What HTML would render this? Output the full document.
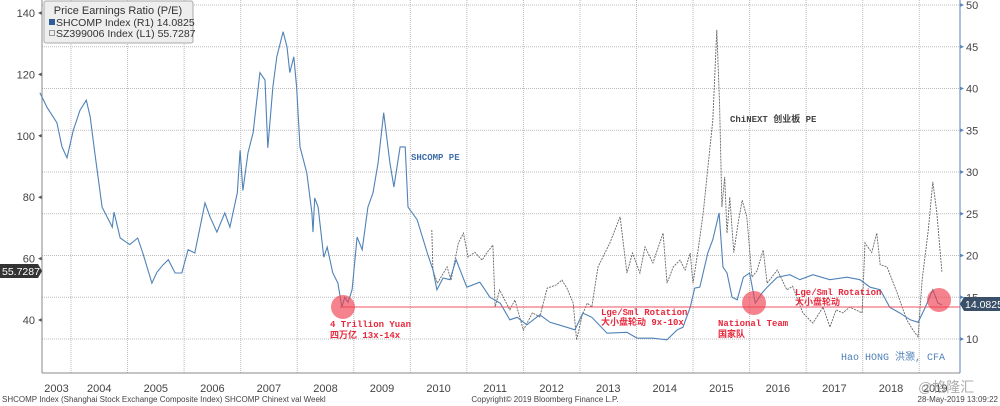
<!DOCTYPE html>
<html><head><meta charset="utf-8"><style>
body{margin:0;background:#fff;width:1000px;height:406px;overflow:hidden}
svg{display:block;font-family:"Liberation Sans","Noto Sans CJK SC",sans-serif}
.mono{font-family:"Liberation Mono","Noto Sans CJK SC",monospace;font-weight:bold}
</style></head><body>
<svg id="chart" width="1000" height="406">
<g id="grid"></g>
<g id="axes"></g>
<g id="series"></g>
<g id="annot"></g>
</svg>
<script>
const yearTicks=[2004,2005,2006,2007,2008,2009,2010,2011,2012,2013,2014,2015,2016,2017,2018,2019];
const yearLabels=[2003,2004,2005,2006,2007,2008,2009,2010,2011,2012,2013,2014,2015,2016,2017,2018,2019];
const leftTicks=[40,60,80,100,120,140];
const rightTicks=[10,15,20,25,30,35,40,45,50];
const shcompT=[2003.45,2003.58,2003.75,2003.84,2003.93,2004.04,2004.16,2004.27,2004.34,2004.42,2004.55,2004.73,2004.76,2004.87,2005.04,2005.18,2005.27,2005.43,2005.52,2005.63,2005.72,2005.84,2005.96,2006.07,2006.19,2006.37,2006.46,2006.58,2006.72,2006.81,2006.94,2006.99,2007.04,2007.13,2007.22,2007.34,2007.43,2007.48,2007.57,2007.64,2007.75,2007.82,2007.87,2007.94,2007.99,2008.05,2008.17,2008.26,2008.28,2008.31,2008.37,2008.47,2008.53,2008.63,2008.72,2008.79,2008.84,2008.9,2008.97,2009.06,2009.15,2009.25,2009.34,2009.43,2009.53,2009.64,2009.71,2009.82,2009.91,2009.96,2010.12,2010.3,2010.4,2010.47,2010.58,2010.7,2010.81,2011.0,2011.23,2011.41,2011.59,2011.76,2011.89,2012.06,2012.29,2012.47,2012.77,2012.91,2013.05,2013.21,2013.48,2013.83,2014.01,2014.29,2014.54,2014.72,2014.82,2014.95,2015.03,2015.12,2015.26,2015.35,2015.46,2015.53,2015.6,2015.69,2015.78,2015.89,2016.0,2016.1,2016.22,2016.31,2016.49,2016.71,2016.89,2017.12,2017.42,2017.72,2017.95,2018.13,2018.31,2018.48,2018.66,2018.84,2018.98,2019.1,2019.24,2019.33,2019.4];
const shcompV=[39.5,37.7,35.9,33.0,31.7,35.0,37.4,38.6,36.6,32.3,25.8,23.4,25.2,22.1,21.3,22.1,20.3,16.7,18.0,18.9,19.5,17.9,17.9,20.7,20.3,26.3,24.6,22.8,25.1,23.4,27.5,32.6,27.8,32.3,34.7,41.9,41.0,32.9,40.2,43.8,46.8,45.0,41.9,43.8,40.2,33.0,29.9,25.1,22.8,26.9,25.8,19.8,21.0,17.9,16.7,13.8,15.0,14.4,15.9,22.2,20.7,25.8,27.5,31.1,37.1,31.1,28.2,33.0,33.0,25.8,24.3,20.3,18.3,15.9,17.3,17.1,19.5,16.2,16.8,15.0,14.3,12.3,12.6,11.7,12.9,12.0,11.4,11.1,13.1,12.6,10.7,10.8,10.1,10.1,9.9,11.1,11.4,13.8,16.1,16.2,20.3,21.9,25.1,18.6,17.9,15.0,14.7,17.4,17.9,14.3,15.5,16.2,17.4,17.7,17.1,17.7,17.1,17.4,17.1,16.2,15.9,13.8,13.1,12.3,12.0,13.7,15.9,14.3,14.08];
const chinextT=[2010.38,2010.4,2010.48,2010.65,2010.72,2010.85,2010.94,2011.02,2011.14,2011.27,2011.36,2011.46,2011.5,2011.58,2011.76,2011.85,2012.0,2012.16,2012.29,2012.42,2012.58,2012.68,2012.77,2012.88,2012.94,2013.04,2013.13,2013.21,2013.32,2013.53,2013.71,2013.83,2013.93,2014.06,2014.15,2014.29,2014.47,2014.54,2014.65,2014.77,2014.86,2014.95,2015.0,2015.09,2015.18,2015.27,2015.35,2015.42,2015.47,2015.51,2015.56,2015.6,2015.65,2015.72,2015.8,2015.87,2015.95,2016.04,2016.13,2016.24,2016.31,2016.49,2016.66,2016.76,2016.94,2017.12,2017.3,2017.42,2017.53,2017.65,2017.77,2017.99,2018.04,2018.16,2018.25,2018.31,2018.43,2018.61,2018.78,2018.89,2018.98,2019.05,2019.16,2019.24,2019.31,2019.4];
const chinextV=[69.3,56.3,52.0,57.3,53.0,65.1,68.3,60.5,62.1,59.5,62.1,64.4,44.2,49.8,43.3,46.5,36.7,42.3,41.0,50.4,51.4,53.0,50.4,45.5,33.5,41.6,45.5,44.2,57.3,65.1,73.6,55.3,61.8,55.3,63.8,58.6,68.3,52.0,57.3,59.5,56.3,61.8,52.0,62.8,74.9,91.0,105,134.5,110,76.8,86.6,68.3,80,62,72,79,73.6,54.0,56,62.8,52,56.3,49.8,51,42.3,39.0,44.2,37.7,43.3,42.3,44.2,42.3,65.1,62,68.3,58,57.3,48.8,40.0,36.7,34.5,53.0,69.3,85.0,75.0,55.73];
const X0=71,XS=56.55,PL=42,PR=960,PB=373;
const xS=t=>X0+(t-2004)*XS;
const yL=v=>13+(140-v)*3.07;
const yR=v=>5+(50-v)*8.35;
const NS='http://www.w3.org/2000/svg';
function mk(tag,at,parent,txt){const e=document.createElementNS(NS,tag);for(const k in at)e.setAttribute(k,at[k]);if(txt!==undefined)e.textContent=txt;parent.appendChild(e);return e;}
const grid=document.getElementById('grid'),axes=document.getElementById('axes'),ser=document.getElementById('series'),ann=document.getElementById('annot');
rightTicks.forEach(v=>{const l=mk('line',{x1:PL,x2:PR,y1:yR(v),y2:yR(v),stroke:'#bbb','stroke-dasharray':'1,1'},grid);


const t=mk('text',{x:PR+6,y:yR(v)+4,'font-size':11,fill:'#444'},axes,v);


mk('path',{d:`M${PR} ${yR(v)-2}L${PR+4} ${yR(v)}L${PR} ${yR(v)+2}Z`,fill:'#5a86b8'},axes);});
yearTicks.forEach(y=>{const l=mk('line',{x1:xS(y),x2:xS(y),y1:0,y2:PB,stroke:'#bbb','stroke-dasharray':'1,1'},grid);

});
yearLabels.forEach(y=>{const cx=y===2003?(PL+xS(2004))/2:(y===2019?xS(2019)+16:xS(y)+XS/2);
const t=mk('text',{x:cx,y:392,'font-size':11,fill:'#444','text-anchor':'middle'},axes,y);

});
leftTicks.forEach(v=>{const t=mk('text',{x:35,y:yL(v)+4,'font-size':11,fill:'#444','text-anchor':'end'},axes,v);


mk('path',{d:`M${PL} ${yL(v)-2}L${PL-4} ${yL(v)}L${PL} ${yL(v)+2}Z`,fill:'#555'},axes);});
mk('line',{x1:PL,x2:PL,y1:0,y2:PB,stroke:'#888'},axes);
mk('line',{x1:PR,x2:PR,y1:0,y2:PB,stroke:'#5a86b8'},axes);
mk('line',{x1:PL,x2:PR,y1:PB,y2:PB,stroke:'#888'},axes);
const cp=chinextT.map((t,i)=>`${i?'L':'M'}${xS(t).toFixed(1)} ${yL(chinextV[i]).toFixed(1)}`).join('');
const c=mk('path',{d:cp,fill:'none',stroke:'#666','stroke-width':0.9,'stroke-dasharray':'2,1'},ser);


const sp=shcompT.map((t,i)=>`${i?'L':'M'}${xS(t).toFixed(1)} ${yR(shcompV[i]).toFixed(1)}`).join('');
const s=mk('path',{d:sp,fill:'none',stroke:'#4f82b8','stroke-width':1.1},ser);


</script>
<svg width="1000" height="406" style="position:absolute;left:0;top:0">
<line x1="340" y1="307" x2="960" y2="307" stroke="#f05060" stroke-width="1"/>
<circle cx="343" cy="307" r="12" fill="#f04050" fill-opacity="0.65"/>
<circle cx="754" cy="303" r="12" fill="#f04050" fill-opacity="0.65"/>
<circle cx="939" cy="300" r="12" fill="#f04050" fill-opacity="0.65"/>
<g class="mono" font-size="9" fill="#e8283c">
<text x="330" y="327">4 Trillion Yuan</text>
<text x="330" y="338">四万亿 13x-14x</text>
<text x="601" y="315">Lge/Sml Rotation</text>
<text x="601" y="325">大小盘轮动 9x-10x</text>
<text x="718" y="326">National Team</text>
<text x="718" y="337">国家队</text>
<text x="795" y="295">Lge/Sml Rotation</text>
<text x="795" y="305">大小盘轮动</text>
</g>
<text class="mono" x="411" y="160" font-size="9" fill="#3e6fa8">SHCOMP PE</text>
<text class="mono" x="730" y="122" font-size="9" fill="#444">ChiNEXT 创业板 PE</text>
<text x="841" y="360" font-size="10" fill="#4f82b8" font-family="Liberation Mono,Noto Sans CJK SC,monospace">Hao HONG 洪灏, CFA</text>
<g>
<rect x="44" y="1" width="149" height="42" fill="#eee" stroke="#aaa" rx="2"/>
<text x="118" y="14" font-size="11" fill="#333" text-anchor="middle">Price Earnings Ratio (P/E)</text>
<rect x="49" y="19" width="6" height="6" fill="#2d5f9a"/>
<text x="56" y="26" font-size="10.5" fill="#333">SHCOMP Index  (R1)   14.0825</text>
<rect x="49.5" y="30.5" width="5" height="5" fill="none" stroke="#999"/>
<text x="56" y="37" font-size="10.5" fill="#333">SZ399006 Index  (L1) 55.7287</text>
</g>
<g><path d="M0 264H38L42 271L38 278H0Z" fill="#333"/><text x="2" y="275" font-size="10.5" fill="#fff">55.7287</text></g>
<g><path d="M960 304L964 297H1000V311H964Z" fill="#3a4f68"/><text x="965" y="308" font-size="10.5" fill="#fff">14.0825</text></g>
<g font-size="8" fill="#444" font-family="Liberation Sans,sans-serif">
<text x="2" y="402">SHCOMP Index (Shanghai Stock Exchange Composite Index) SHCOMP Chinext val  Weekl</text>
<text x="545" y="402" text-anchor="middle">Copyright© 2019 Bloomberg Finance L.P.</text>
<text x="998" y="402" text-anchor="end">28-May-2019 13:09:22</text>
</g>
<text x="918" y="392" font-size="14" fill="#999" fill-opacity="0.8" font-family="Liberation Sans,Noto Sans CJK SC,sans-serif">@格隆汇</text>
</svg>
</body></html>
